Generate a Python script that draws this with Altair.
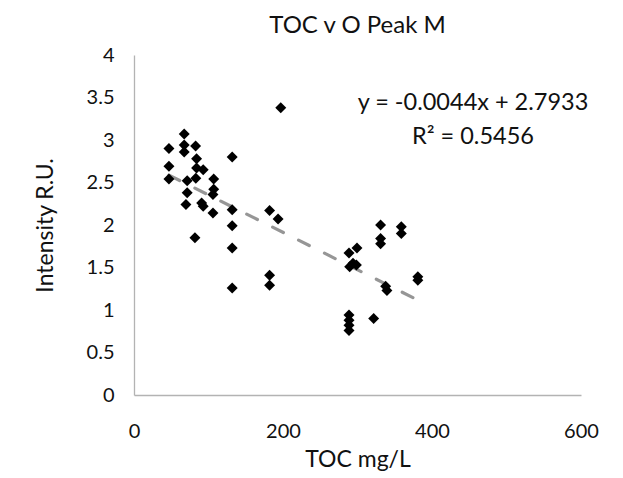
import altair as alt
import pandas as pd

toc = [67.4, 46.9, 67.4, 67.4, 82.7, 131.8, 46.9, 84, 84, 92.9,
       46.9, 71.4, 83, 107, 107, 71.4, 106, 69.7, 90.8, 92.9,
       106, 131.8, 131.8, 182, 193.4, 81.8, 131.8, 182, 182, 131.8,
       197,
       331, 358.8, 358.8, 331, 331, 299.3, 288.6, 294, 298.5, 289.5,
       337.8, 339.5, 381, 381, 288.6, 288.6, 288.6, 288.6, 321.7]
intensity = [3.07, 2.90, 2.94, 2.86, 2.93, 2.80, 2.69, 2.78, 2.67, 2.65,
             2.54, 2.52, 2.55, 2.54, 2.42, 2.38, 2.36, 2.24, 2.26, 2.22,
             2.14, 2.18, 1.99, 2.17, 2.07, 1.85, 1.73, 1.41, 1.29, 1.26,
             3.38,
             2.00, 1.98, 1.90, 1.84, 1.78, 1.73, 1.67, 1.55, 1.53, 1.51,
             1.28, 1.23, 1.39, 1.35, 0.94, 0.88, 0.82, 0.76, 0.90]

slope = -0.0044
intercept = 2.7933
eq_text = ["y = -0.0044x + 2.7933", "R² = 0.5456"]

FONT = "Lato"

pts = pd.DataFrame({"x": toc, "y": intensity})
xs = [min(toc), max(toc)]
trend = pd.DataFrame({"x": xs, "y": [slope * v + intercept for v in xs]})
ann = pd.DataFrame({"x": [455, 455], "y": [3.44, 3.04], "t": eq_text})

xscale = alt.Scale(domain=[0, 600], nice=False)
yscale = alt.Scale(domain=[0, 4], nice=False)

xaxis = alt.Axis(title="TOC mg/L", values=[0, 200, 400, 600], grid=False, ticks=False,
                 labelFlush=False, labelOverlap=False,
                 domainColor="#b3b3b3", domainWidth=1.3, labelFontSize=20, labelColor="#111",
                 labelPadding=26, labelFont=FONT, titleFont=FONT, titleFontSize=23,
                 titleFontWeight="normal", titleColor="#111", titleY=64,
                 titleBaseline="middle")
yaxis = alt.Axis(title="Intensity R.U.", values=[0, 0.5, 1, 1.5, 2, 2.5, 3, 3.5, 4],
                 format="~g", labelFlush=False, labelOverlap=False,
                 grid=False, ticks=False, domainColor="#b3b3b3", domainWidth=1.3,
                 labelFontSize=20, labelColor="#111", labelPadding=20, labelFont=FONT,
                 titleFont=FONT, titleFontSize=23, titleFontWeight="normal",
                 titleColor="#111", titleX=-89, titleY=170, titleAngle=-90,
                 titleAlign="center", titleBaseline="middle")

points = alt.Chart(pts).mark_point(shape="diamond", filled=True, color="black",
                                   size=120, opacity=1).encode(
    x=alt.X("x:Q", scale=xscale, axis=xaxis),
    y=alt.Y("y:Q", scale=yscale, axis=yaxis),
)

line = alt.Chart(trend).mark_line(color="#969696", strokeWidth=3.2,
                                  strokeDash=[12, 17], strokeCap="round").encode(
    x=alt.X("x:Q", scale=xscale),
    y=alt.Y("y:Q", scale=yscale),
)

text = alt.Chart(ann).mark_text(fontSize=23.5, font=FONT, color="#111",
                                align="center", baseline="middle").encode(
    x=alt.X("x:Q", scale=xscale),
    y=alt.Y("y:Q", scale=yscale),
    text="t:N",
)

chart = alt.layer(line, points, text).properties(
    width=447, height=340,
    title=alt.TitleParams("TOC v O Peak M", fontSize=24, font=FONT,
                          fontWeight="normal", color="#111", anchor="middle",
                          offset=7),
    autosize=alt.AutoSizeParams(type="none"),
    padding={"left": 126, "top": 47, "right": 30, "bottom": 78},
).configure_view(stroke=None)

chart.save("out.html", embed_options={"renderer": "svg", "actions": False})
